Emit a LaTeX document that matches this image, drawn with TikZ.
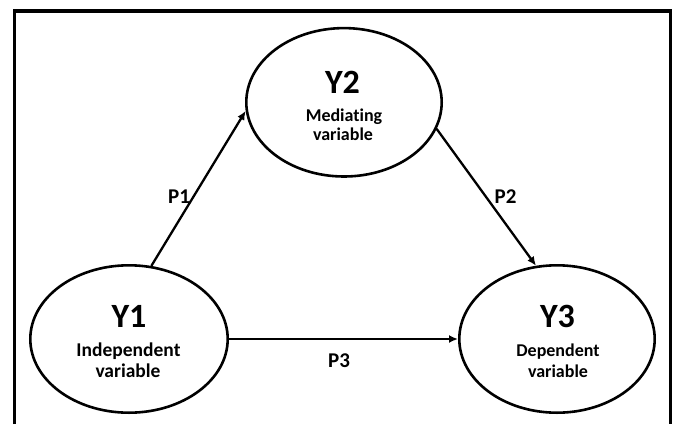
\documentclass[tikz,border=0pt]{standalone}
\usepackage{fontspec}
\setmainfont{Carlito}[Ligatures={NoCommon,NoDiscretionary,NoRare}]
\usetikzlibrary{arrows.meta,shapes.geometric}
\begin{document}
\begin{tikzpicture}[x=1pt,y=-1pt,
  var/.style={draw=black,line width=2.6pt,ellipse,inner sep=0pt,minimum width=#1,minimum height=147.4pt},
  conn/.style={draw=black,line width=2.3pt,-{Latex[length=9pt,width=8pt]}},
  bigtxt/.style={inner sep=0pt,anchor=base,font=\bfseries\fontsize{34}{34}\selectfont},
  subtxt/.style={inner sep=0pt,anchor=base,font=\bfseries\fontsize{#1}{#1}\selectfont},
  plabel/.style={inner sep=0pt,anchor=base,font=\bfseries\fontsize{21}{21}\selectfont}
]
\useasboundingbox (0,0) rectangle (678,424);
\fill[white] (0,0) rectangle (678,424);
\draw[line width=3.3pt] (14.5,424) -- (14.5,11) -- (670.5,11) -- (670.5,424);

\node[var=197.4pt] (Y1) at (129,339) {};
\node[var=195.4pt,minimum height=148.4pt] (Y2) at (344,102.3) {};
\node[var=195.4pt] (Y3) at (557,339) {};

\node[bigtxt] (t1) at (129,327) {Y1};
\node[subtxt=19.5] (t1a) at (128.5,356) {Independent};
\node[subtxt=19.5] (t1b) at (128,377) {variable};

\node[bigtxt] (t2) at (342.5,93) {Y2};
\node[subtxt=18] (t2a) at (344,121) {Mediating};
\node[subtxt=18] (t2b) at (343,140) {variable};

\node[bigtxt] (t3) at (557.5,327) {Y3};
\node[subtxt=18] (t3a) at (558,356) {Dependent};
\node[subtxt=18] (t3b) at (558,377) {variable};

\draw[conn] (Y1.73) -- (Y2.185);
\draw[conn] (Y2.344) -- (Y3.106);
\draw[conn] (Y1.east) -- (Y3.west);

\node[plabel] (p1) at (179,203) {P1};
\node[plabel] (p2) at (505.5,203) {P2};
\node[plabel] (p3) at (339,367) {P3};
\end{tikzpicture}
\end{document}
